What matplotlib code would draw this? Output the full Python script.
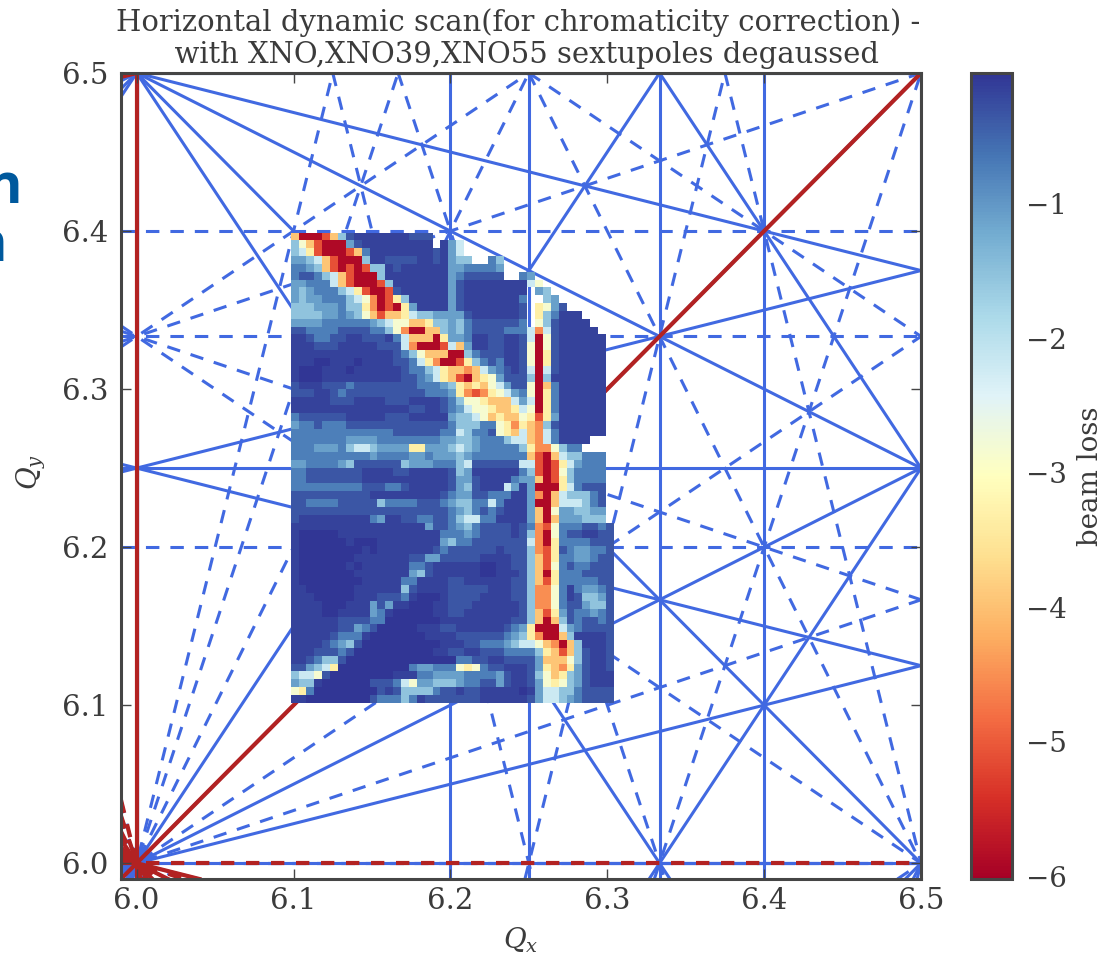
import math

import matplotlib
matplotlib.use("Agg")
import matplotlib.pyplot as plt
import numpy as np

plt.rcParams["font.family"] = "DejaVu Serif"
plt.rcParams["mathtext.fontset"] = "dejavuserif"

TEXT = "#3b3b3b"
FRAME = "#454545"
BLUE = "#4169e1"
RED = "#b22222"

# resonance lines a*Qx + b*Qy = p
normal_pairs = [(1, 0), (2, 0), (3, 0), (4, 0), (5, 0), (0, 2), (0, 4), (1, 2), (1, -2),
                (1, 4), (1, -4), (2, 2), (2, -2), (3, 2), (3, -2)]
skew_pairs = [(0, 1), (0, 3), (0, 5), (1, 1), (1, -1), (1, 3), (1, -3), (2, 1), (2, -1),
              (2, 3), (2, -3), (3, 1), (3, -1), (4, 1), (4, -1)]
red_solid = [(1, 0, 6), (1, -1, 0), (1, 2, 18), (1, 4, 30), (2, 2, 24), (3, 2, 30), (1, -4, -20)]
red_dashed = [(0, 1, 6), (1, 3, 24), (2, 3, 30), (2, 1, 18), (3, 1, 24), (4, 1, 30)]

# beam loss per cell, one character per cell, '.' means not measured, top row first
loss_levels = dict(zip("0123456789abc", [-0.03, -0.15, -0.35, -0.75, -1.1, -1.55, -2.2,
                                         -2.85, -3.35, -3.95, -4.5, -5.1, -5.9]))
loss_rows = [
    "9cccb9521111111222",
    "579bccc42111111111.146",
    "568bcccb9311111111" + "2146",
    "44569bccc51122221121455..35",
    "33459bcbcb55121111114433334",
    "3223569bccc5" + "11111111" + "4322222" + "..34",
    "4433369bcccb5" + "1111111" + "42" + "11111111" + "67",
    "454333568bccb2" + "111111" + "42" + "11111111" + ".45",
    "4544333567acb85" + "11111" + "42" + "1111111" + "3" + ".." + "54",
    "5554443558acbc84" + "1111" + "42" + "1111111" + "2" + "." + "8742",
    "55554434579b99865544442" + "111111" + "2" + "." + "853" + "111",
    "44443333334567799855453" + "222222" + "3" + "." + "752" + "1111",
    "2233332222" + "33" + "57acc99" + "5453" + "2222" + "333" + "6a62" + "11111",
    "11233221122213" + "6999c8443" + "1122112" + "6c72" + "111111",
    "11122211111222" + "6acccb694" + "1122112" + "7c72" + "111111",
    "1111111111111" + "2357999cc53" + "222112" + "7c82" + "111111",
    "1110011101111223" + "68accb85" + "323112" + "7c82" + "111111",
    "1000111011111123" + "356899a9" + "643212" + "6c62" + "111111",
    "10001111111111" + "2234" + "689bc9" + "874222" + "5c51" + "111111",
    "21112223" + "22222222" + "3334" + "5898976422" + "7c93" + "111111",
    "2221123" + "2222222222" + "333" + "48aba87643" + "7c83" + "111111",
    "11111222111122211112" + "3577899964" + "6c83" + "111111",
    "111111111111111" + "22112" + "3467789986" + "7c83" + "111111",
    "32222221111122211111" + "4556798997" + "8b84" + "111111",
    "4332333" + "2222222222222" + "35553378a8" + "9a52" + "111111",
    "3333333333333" + "222222" + "3" + "3653327896" + "9a63" + "111111",
    "3333333" + "4444" + "33333333" + "4" + "4554333566" + "9a63" + "1111",
    "33344435665444488444" + "5654333335" + "8aa7533",
    "3333333333" + "4333344344" + "4543333333" + "9bc9655333",
    "44333345222222544433" + "3562222226" + "6bcb864333",
    "332222222" + "11112211111" + "2541111113" + "5bcb753333",
    "332222222" + "11111111111" + "2442111134" + "49cb853333",
    "333333333" + "222" + "33" + "2" + "11111" + "2452111641" + "4ccc863222",
    "2222222222" + "111111111" + "2" + "3442233311" + "4ac9655532",
    "22333322222" + "533332223" + "4553363111" + "4cc9666532",
    "22222222222222222222" + "3453232111" + "49c7445544",
    "2111111111" + "3411223322" + "3566331111" + "49c9444555",
    "11111111111111111" + "422" + "3453222212" + "3ab73332232",
    "1000001111111111111" + "3" + "3343222212" + "5ac73221122",
    "1000000100011111111" + "4" + "5332222222" + "6ac83333222",
    "100000000101111111232222" + "221222" + "5ab82344332",
    "100000001111111224422222" + "111122" + "59b83344322",
    "100000010111111" + "33" + "2111111" + "001122" + "59b73233222",
    "100000001111111" + "45" + "2111111" + "001112" + "59c83332222",
    "10000000011111" + "33" + "11112211" + "111122" + "59b83333322",
    "11000000111111" + "5" + "2" + "11112222" + "211122" + "5aa73134432",
    "111000001112" + "223" + "100012222" + "111122" + "5aa73125542",
    "1111000111" + "4241" + "1000112221" + "111112" + "5aa73224552",
    "1111001111" + "431" + "00000112211" + "111112" + "59b84233432",
    "11111122" + "2233" + "000000011111" + "111122" + "59c95232232",
    "1111112" + "2432" + "0000011122111" + "111234" + "8ccc6432222",
    "111112" + "3331" + "00000001111222" + "222345" + "8acc9511112",
    "11112" + "3452" + "000000000011122" + "333456" + "679ac951112",
    "11122" + "232" + "0000000000112211" + "222333" + "3589b952112",
    "1123552" + "00000000000000" + "332" + "211222" + "24999752112",
    "224568" + "000000000" + "344333787" + "322111" + "2489a842112",
    "5667200000000" + "111" + "33444433" + "334211" + "25798542111",
    "4551000000222" + "36744555433" + "224211" + "24787542111",
    "78300000000" + "212" + "5555" + "3" + "22122" + "111110" + "14665532222",
    "11" + "00000000" + "2333" + "5" + "3" + "12222222" + "111111" + "24665432222",
]

# cell edges of the scan in tune space
n_cols = 41
qx_edges = np.linspace(6.0982, 6.3042, n_cols + 1)
qy_edges = np.linspace(6.1015, 6.399, len(loss_rows) + 1)

x_ticks = [6.0, 6.1, 6.2, 6.3, 6.4, 6.5]
y_ticks = [6.0, 6.1, 6.2, 6.3, 6.4, 6.5]
cbar_ticks = [-6, -5, -4, -3, -2, -1]

title = "Horizontal dynamic scan(for chromaticity correction) -\n  with XNO,XNO39,XNO55 sextupoles degaussed"


def draw_resonance(ax, a, b, p, **style):
    if b == 0:
        ax.axvline(p / a, **style)
    else:
        ax.axline((6.0, (p - a * 6.0) / b), slope=-a / b, **style)


def crossing_orders(a, b, lim):
    corners = [a * x + b * y for x in lim for y in lim]
    return range(math.ceil(min(corners)), math.floor(max(corners)) + 1)


W, H = 1101, 956
fig = plt.figure(figsize=(W / 100, H / 100), dpi=100)
ax = fig.add_axes([121 / W, 1 - 879 / H, 800 / W, 806 / H])
lim = (5.99, 6.5)
ax.set_xlim(lim)
ax.set_ylim(lim)

blue_dash = (0, (4.4, 3.6))
red_dash = (0, (3.2, 2.8))
for a, b in normal_pairs:
    for p in crossing_orders(a, b, lim):
        draw_resonance(ax, a, b, p, color=BLUE, lw=2.2, zorder=1)
for a, b in skew_pairs:
    for p in crossing_orders(a, b, lim):
        draw_resonance(ax, a, b, p, color=BLUE, lw=2.2, ls=blue_dash, zorder=1)
for a, b, p in red_solid:
    draw_resonance(ax, a, b, p, color=RED, lw=3.0, zorder=1.5)
for a, b, p in red_dashed:
    draw_resonance(ax, a, b, p, color=RED, lw=3.0, ls=red_dash, zorder=1.5)

loss = np.full((len(loss_rows), n_cols), np.nan)
for r, row in enumerate(loss_rows):
    for c, ch in enumerate(row):
        if ch != ".":
            loss[r, c] = loss_levels[ch]
mesh = ax.pcolormesh(qx_edges, qy_edges, loss[::-1], cmap="RdYlBu", vmin=-6.02, vmax=-0.03,
                     zorder=2, linewidth=0, rasterized=True)

ax.set_xticks(x_ticks)
ax.set_yticks(y_ticks)
ax.tick_params(direction="in", length=7, width=1, color=FRAME, labelcolor=TEXT, labelsize=21,
               top=True, right=True)
ax.tick_params(axis="x", pad=6)
ax.tick_params(axis="y", pad=9)
for spine in ax.spines.values():
    spine.set_linewidth(2.2)
    spine.set_color(FRAME)
    spine.set_zorder(5)

ax.set_title(title, fontsize=20.9, color=TEXT, pad=7, linespacing=1.18, x=0.496)
ax.set_xlabel("$Q_x$", fontsize=20, color=TEXT, labelpad=7)
ax.set_ylabel("$Q_y$", fontsize=20, color=TEXT, labelpad=10, y=0.505)

cax = fig.add_axes([971 / W, 1 - 879 / H, 41 / W, 806 / H])
cbar = fig.colorbar(mesh, cax=cax, ticks=cbar_ticks)
cbar.outline.set_linewidth(2.2)
cbar.outline.set_edgecolor(FRAME)
cbar.ax.tick_params(length=0, labelsize=20, labelcolor=TEXT, pad=10)
cbar.set_label("beam loss", fontsize=20, color=TEXT, labelpad=7)

# slide text cut by the crop on the left
fig.text(22 / W, 1 - 203 / H, "n", fontsize=40, fontweight="bold", color="#00599d",
         family="Open Sans", ha="right", va="baseline")
fig.text(7 / W, 1 - 261 / H, "n", fontsize=40, fontweight="bold", color="#00599d",
         family="Open Sans", ha="right", va="baseline")

fig.savefig("out.png", dpi=100)
